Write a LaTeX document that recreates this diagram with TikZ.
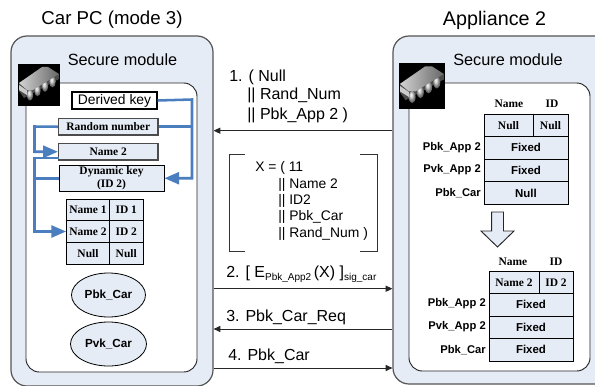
\documentclass[tikz,border=0pt]{standalone}
\usepackage{fontspec}
\setmainfont{Liberation Sans}
\newfontfamily\tblfont{Liberation Serif}
\usetikzlibrary{arrows.meta,shapes.geometric}
\definecolor{panel}{HTML}{E6ECF6}
\definecolor{flow}{HTML}{4A7EBF}
\definecolor{edge}{HTML}{555555}
\newcommand{\fsz}[1]{\fontsize{#1}{#1}\selectfont}
\tikzset{
  x=0.75pt,y=-0.75pt,
  outerbox/.style={draw=edge,line width=0.9pt,fill=panel,rounded corners=12pt,inner sep=0pt},
  innerbox/.style={draw=black!85,line width=0.7pt,fill=white,rounded corners=10pt,inner sep=0pt},
  cellbox/.style={draw=black,line width=0.7pt,fill=panel,inner sep=0pt,align=center,font=\tblfont\bfseries\fsz{8.6}},
  grayfield/.style={cellbox,draw=black!70,line width=0.9pt},
  sanscell/.style={cellbox,font=\bfseries\fsz{8.6}},
  keylabel/.style={inner sep=0pt,anchor=east,font=\bfseries\fsz{8.4}},
  headlabel/.style={inner sep=0pt,font=\tblfont\bfseries\fsz{8.6}},
  title/.style={inner sep=0pt,font=\fsz{14}},
  modtitle/.style={inner sep=0pt,font=\fsz{12.2}},
  msg/.style={inner sep=0pt,anchor=west,font=\fsz{12}},
  xtext/.style={inner sep=0pt,anchor=west,font=\fsz{10.4}},
  keyellipse/.style={ellipse,draw=black,line width=0.6pt,fill=panel,inner sep=0pt,font=\bfseries\fsz{8.8}},
  msgarrow/.style={draw=black!85,line width=0.7pt,-{Triangle[length=5pt,width=4.5pt]}},
  flowline/.style={draw=flow,line width=1.9pt},
  flowarrow/.style={flowline,-{Triangle[length=11pt,width=9pt]}},
  bracket/.style={draw=black!80,line width=0.6pt},
}
\newcommand{\bx}[7]{% style, name, x1,y1,x2,y2, text
  \pgfmathsetmacro{\cxx}{(#3+#5)/2}\pgfmathsetmacro{\cyy}{(#4+#6)/2}
  \pgfmathsetmacro{\www}{(#5-#3)*0.75}\pgfmathsetmacro{\hhh}{(#6-#4)*0.75}
  \node[#1,minimum width=\www pt,minimum height=\hhh pt] (#2) at (\cxx,\cyy) {#7};}
\newcommand{\chip}[3]{% x, y, scale
  \begin{scope}[shift={(#1,#2)},x=#3*0.75pt,y=-#3*0.75pt]
    \fill[black] (0,0) rectangle (42,42);
    \fill[gray!60!black] (1,19) -- (1,27) -- (6,34) -- (41,15) -- (41,10) -- cycle;
    \foreach \t in {0,1,2,3}{
      \shade[ball color=gray!45] ({12+\t*7.5},{31-\t*4.4}) ellipse (3.2 and 5.6);
    }
    \shade[left color=gray!35,right color=gray!80!black] (1,19) -- (24,3) -- (30,3) -- (41,10) -- (15,26) -- (9,26) -- cycle;
    \fill[gray!40] (1,21) -- (9,26.5) -- (9,31) -- (1,26) -- cycle;
  \end{scope}}
\begin{document}
\begin{tikzpicture}
\useasboundingbox (0,0) rectangle (595,385);
\clip (0,0) rectangle (595,385);
\fill[white] (0,0) rectangle (595,385);

\node[title] (carTitle) at (112,20) {Car PC (mode 3)};
\node[title,font=\fsz{14.8}] (appTitle) at (494.5,20) {Appliance 2};

\bx{outerbox}{carOuter}{11}{36}{213}{386}{}
\bx{outerbox}{appOuter}{393}{36}{610}{384}{}
\node[modtitle] (carMod) at (122.5,60) {Secure module};
\node[modtitle] (appMod) at (508,60) {Secure module};
\bx{innerbox}{carInner}{26}{83}{197}{372}{}
\bx{innerbox}{appInner}{409}{83}{590}{371}{}

\chip{18}{64}{1}
\chip{399}{63}{1.095}

% Car PC fields
\bx{cellbox,fill=white,line width=1pt,font=\fsz{10.4}}{derived}{72}{92}{157}{109}{Derived key}
\bx{grayfield}{random}{58.5}{118.5}{158}{135}{Random number}
\bx{grayfield}{nameTwo}{58.5}{143.5}{158}{160}{Name 2}
\bx{cellbox}{dynamic}{59}{165.5}{164}{191}{Dynamic key\\[1pt](ID 2)}

% Car table
\bx{cellbox}{a11}{66.5}{199}{109.5}{220.5}{Name 1}
\bx{cellbox}{a12}{109.5}{199}{143}{220.5}{ID 1}
\bx{cellbox}{a21}{66.5}{220.5}{109.5}{242.5}{Name 2}
\bx{cellbox}{a22}{109.5}{220.5}{143}{242.5}{ID 2}
\bx{cellbox}{a31}{66.5}{242.5}{109.5}{264}{Null}
\bx{cellbox}{a32}{109.5}{242.5}{143}{264}{Null}

\node[keyellipse,minimum width=55.5pt,minimum height=33pt] (pbk) at (108.5,295) {Pbk\_Car};
\node[keyellipse,minimum width=57pt,minimum height=33pt] (pvk) at (108.5,344) {Pvk\_Car};

% Blue flows
\coordinate (railR) at (192,99.5);
\coordinate (railL) at (34.5,126.5);
\draw[flowline] (random.east) -- (railR |- random.east);
\draw[flowarrow] (derived.east) -- (railR) |- (dynamic.east);
\draw[flowarrow] (random.west) -- (railL) |- (nameTwo.west);
\coordinate (nameOut) at (58.5,158);
\draw[flowarrow] (nameOut) -- (railL |- nameOut) |- (a21.west);
\draw[flowline] (dynamic.west) -- (railL |- dynamic.west);

% Appliance table (top)
\node[headlabel] (hN1) at (509,104) {Name};
\node[headlabel] (hI1) at (552,104) {ID};
\bx{cellbox}{b11}{484}{114.7}{533}{136.3}{Null}
\bx{cellbox}{b12}{533}{114.7}{568}{136.3}{Null}
\bx{sanscell}{b2}{484}{136.3}{568}{159}{Fixed}
\bx{sanscell}{b3}{484}{159}{568}{181.7}{Fixed}
\bx{sanscell}{b4}{484}{181.7}{568}{204.3}{Null}
\node[keylabel] (l1) at (481,147.5) {Pbk\_App 2};
\node[keylabel] (l2) at (481,170) {Pvk\_App 2};
\node[keylabel] (l3) at (481,193) {Pbk\_Car};

% Down arrow
\draw[draw=black!85,line width=0.7pt,fill=panel,line join=miter]
  (491.7,212) -- (503.5,212) -- (503.5,231) -- (514,231) -- (497.5,247) -- (481,231) -- (491.7,231) -- cycle;

% Appliance table (bottom)
\node[headlabel] (hN2) at (513,261.7) {Name};
\node[headlabel] (hI2) at (556,261.7) {ID};
\bx{cellbox}{c11}{489}{271.7}{539}{293.7}{Name 2}
\bx{cellbox}{c12}{539}{271.7}{573}{293.7}{ID 2}
\bx{sanscell}{c2}{489}{293.7}{573}{316}{Fixed}
\bx{sanscell}{c3}{489}{316}{573}{338.7}{Fixed}
\bx{sanscell}{c4}{489}{338.7}{573}{361}{Fixed}
\node[keylabel] (m1) at (486,304) {Pbk\_App 2};
\node[keylabel] (m2) at (486,327) {Pvk\_App 2};
\node[keylabel] (m3) at (486,350) {Pbk\_Car};

% Messages
\coordinate (y1) at (0,130.7);
\coordinate (y2) at (0,288.7);
\coordinate (y3) at (0,329);
\coordinate (y4) at (0,368);
\draw[msgarrow] (appOuter.west |- y1) -- (carOuter.east |- y1);
\draw[msgarrow] (carOuter.east |- y2) -- (appOuter.west |- y2);
\draw[msgarrow] (appOuter.west |- y3) -- (carOuter.east |- y3);
\draw[msgarrow] (carOuter.east |- y4) -- (appOuter.west |- y4);

\node[msg] (t1a) at (229,77) {1. ( Null};
\node[msg] (t1b) at (247,95.5) {|| Rand\_Num};
\node[msg] (t1c) at (247,115) {|| Pbk\_App 2 )};

\node[xtext] (x0) at (255,168) {X = ( 11};
\node[xtext] (x1) at (278,185) {|| Name 2};
\node[xtext] (x2) at (278,201) {|| ID2};
\node[xtext] (x3) at (278,217) {|| Pbk\_Car};
\node[xtext] (x4) at (278,234) {|| Rand\_Num )};

\draw[bracket] (245,154) -- (229,154) -- (229,251) -- (245,251);
\draw[bracket] (360,154) -- (377,154) -- (377,251) -- (360,251);

\node[msg] (t2) at (226,274) {2. [ E\raisebox{-2.5pt}{\fsz{7.5}Pbk\_App2}\,(X) ]\raisebox{-2.5pt}{\fsz{7.5}sig\_car}};
\node[msg] (t3) at (226,317) {3. Pbk\_Car\_Req};
\node[msg] (t4) at (228,356) {4. Pbk\_Car};
\end{tikzpicture}
\end{document}
